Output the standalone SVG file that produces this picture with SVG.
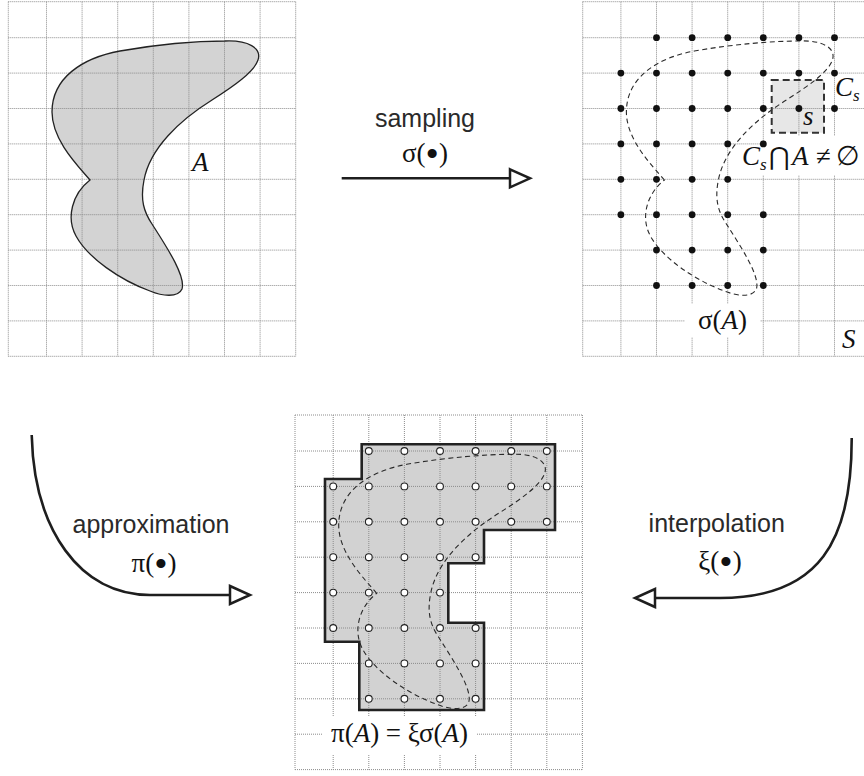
<svg xmlns="http://www.w3.org/2000/svg" xmlns:xlink="http://www.w3.org/1999/xlink" width="864" height="776" viewBox="0 0 864 776">
<style>
.grid{fill:none;stroke:#8c8c8c;stroke-width:1;stroke-dasharray:1 1}
.lbl{font-family:"Liberation Sans",Arial,sans-serif;font-size:25px;fill:#2a2a2a;text-anchor:middle}
.math{font-family:"Liberation Serif","DejaVu Serif",serif;font-size:27px;fill:#111}
.it{font-style:italic}
.sub{font-size:17px;font-style:italic}
.bul{font-size:38px}
.arrow{fill:none;stroke:#1e1e1e;stroke-width:2.6}
.dash{fill:none;stroke:#2a2a2a;stroke-width:1.1;stroke-dasharray:5 3.5}
.bg{fill:#fff;stroke:none}
</style>
<defs>
<path id="gridlines" d="M0,0V354.6M38.2,0V354.6M73.8,0V354.6M109.4,0V354.6M145,0V354.6M180.6,0V354.6M216.2,0V354.6M251.8,0V354.6M287.4,0V354.6M0,0H287.4M0,36H287.4M0,71.4H287.4M0,106.8H287.4M0,142.2H287.4M0,177.6H287.4M0,213H287.4M0,248.4H287.4M0,283.8H287.4M0,319.2H287.4M0,354.6H287.4"/>
<path id="shapeA" d="M90,180 C78,166 52,140 52,112 C52,78 82,58 120,51 C160,44 200,41 225,41 C248,40 262,48 258,60 C254,72 234,86 212,100 C180,120 150,148 144,180 C140,200 144,212 152,224 C166,246 186,276 182,289 C178,298 162,296 150,291 C120,280 88,258 76,236 C66,218 72,194 90,180 Z"/>
<g id="samples">
<circle cx="73.8" cy="36" r="3.4"/><circle cx="109.4" cy="36" r="3.4"/><circle cx="145" cy="36" r="3.4"/><circle cx="180.6" cy="36" r="3.4"/><circle cx="216.2" cy="36" r="3.4"/><circle cx="251.8" cy="36" r="3.4"/>
<circle cx="38.2" cy="71.4" r="3.4"/><circle cx="73.8" cy="71.4" r="3.4"/><circle cx="109.4" cy="71.4" r="3.4"/><circle cx="145" cy="71.4" r="3.4"/><circle cx="180.6" cy="71.4" r="3.4"/><circle cx="216.2" cy="71.4" r="3.4"/><circle cx="251.8" cy="71.4" r="3.4"/>
<circle cx="38.2" cy="106.8" r="3.4"/><circle cx="73.8" cy="106.8" r="3.4"/><circle cx="109.4" cy="106.8" r="3.4"/><circle cx="145" cy="106.8" r="3.4"/><circle cx="180.6" cy="106.8" r="3.4"/><circle cx="216.2" cy="106.8" r="3.4"/><circle cx="251.8" cy="106.8" r="3.4"/>
<circle cx="38.2" cy="142.2" r="3.4"/><circle cx="73.8" cy="142.2" r="3.4"/><circle cx="109.4" cy="142.2" r="3.4"/><circle cx="145" cy="142.2" r="3.4"/><circle cx="180.6" cy="142.2" r="3.4"/>
<circle cx="38.2" cy="177.6" r="3.4"/><circle cx="73.8" cy="177.6" r="3.4"/><circle cx="109.4" cy="177.6" r="3.4"/><circle cx="145" cy="177.6" r="3.4"/>
<circle cx="38.2" cy="213" r="3.4"/><circle cx="73.8" cy="213" r="3.4"/><circle cx="109.4" cy="213" r="3.4"/><circle cx="145" cy="213" r="3.4"/><circle cx="180.6" cy="213" r="3.4"/>
<circle cx="73.8" cy="248.4" r="3.4"/><circle cx="109.4" cy="248.4" r="3.4"/><circle cx="145" cy="248.4" r="3.4"/><circle cx="180.6" cy="248.4" r="3.4"/>
<circle cx="73.8" cy="283.8" r="3.4"/><circle cx="109.4" cy="283.8" r="3.4"/><circle cx="145" cy="283.8" r="3.4"/><circle cx="180.6" cy="283.8" r="3.4"/>
</g>
<marker id="tri" markerUnits="userSpaceOnUse" viewBox="0 0 28 24" markerWidth="28" markerHeight="24" refX="2" refY="12" orient="auto" overflow="visible">
<path d="M2,3 L22,12 L2,21 Z" fill="#fff" stroke="#1e1e1e" stroke-width="2.5"/>
</marker>
</defs>
<rect width="864" height="776" fill="#fff"/>

<g id="panel-A">
<use xlink:href="#shapeA" href="#shapeA" fill="#d3d3d3" stroke="none"/>
<use xlink:href="#gridlines" href="#gridlines" class="grid" transform="translate(8.3,1.7)"/>
<use xlink:href="#shapeA" href="#shapeA" fill="none" stroke="#222" stroke-width="1.3"/>
<text class="math it" x="192" y="171" font-size="30">A</text>
</g>

<g id="panel-sampling">
<rect x="771.7" y="80" width="52.3" height="52.7" fill="#e7e7e7"/>
<use xlink:href="#gridlines" href="#gridlines" class="grid" transform="translate(582.7,1.7)"/>
<path class="bg" d="M767,136H864V175H742V147H767Z"/>
<rect class="bg" x="685" y="304" width="75" height="33"/>
<use xlink:href="#shapeA" href="#shapeA" class="dash" transform="translate(574.4,0)"/>
<rect x="771.7" y="80" width="52.3" height="52.7" fill="none" stroke="#333" stroke-width="2" stroke-dasharray="7 4"/>
<use xlink:href="#samples" href="#samples" fill="#111" transform="translate(582.7,1.7)"/>
<text class="math"><tspan class="it" x="835" y="96">C</tspan><tspan class="sub" x="853" y="101">s</tspan></text>
<text class="math it" x="803" y="125">s</text>
<text class="math"><tspan class="it" x="742" y="165">C</tspan><tspan class="sub" x="760" y="170">s</tspan><tspan x="769" y="165" font-family="DejaVu Serif" font-size="25">⋂</tspan><tspan class="it" x="792" y="165">A</tspan><tspan x="816" y="165">≠</tspan><tspan x="836" y="165">∅</tspan></text>
<text class="math" x="698" y="329">σ(<tspan class="it">A</tspan>)</text>
<text class="math it" x="842" y="348">S</text>
</g>

<g id="panel-approx">
<path d="M361.7,444.3H555V530H484V563.3H448.3V622.7H484V710H359.3V641.7H325V479H361.7Z" fill="#d2d2d2"/>
<use xlink:href="#gridlines" href="#gridlines" class="grid" transform="translate(295,415)"/>
<path d="M361.7,444.3H555V530H484V563.3H448.3V622.7H484V710H359.3V641.7H325V479H361.7Z" fill="none" stroke="#222" stroke-width="2.6"/>
<use xlink:href="#shapeA" href="#shapeA" class="dash" transform="translate(286.7,413.3)"/>
<use xlink:href="#samples" href="#samples" fill="#fff" stroke="#222" stroke-width="1.1" transform="translate(295,415)"/>
<rect class="bg" x="323" y="716" width="154" height="38"/>
<text class="math" x="331" y="742">π(<tspan class="it">A</tspan>) = ξσ(<tspan class="it">A</tspan>)</text>
</g>

<g id="connectors">
<path class="arrow" d="M341.7,178.3H510" marker-end="url(#tri)"/>
<path class="arrow" d="M31.7,435 C34,530 80,595 150,595 L230,595" marker-end="url(#tri)"/>
<path class="arrow" d="M851.7,438 C852,540 820,598 720,598 L655,598" marker-end="url(#tri)"/>
<text class="lbl" x="425" y="127">sampling</text>
<text class="math" x="425" y="162" text-anchor="middle">σ(<tspan class="bul" dy="5">•</tspan><tspan dy="-5">)</tspan></text>
<text class="lbl" x="151" y="533">approximation</text>
<text class="math" x="154" y="572" text-anchor="middle">π(<tspan class="bul" dy="5">•</tspan><tspan dy="-5">)</tspan></text>
<text class="lbl" x="716.7" y="531.7">interpolation</text>
<text class="math" x="720" y="570" text-anchor="middle">ξ(<tspan class="bul" dy="5">•</tspan><tspan dy="-5">)</tspan></text>
</g>
</svg>
